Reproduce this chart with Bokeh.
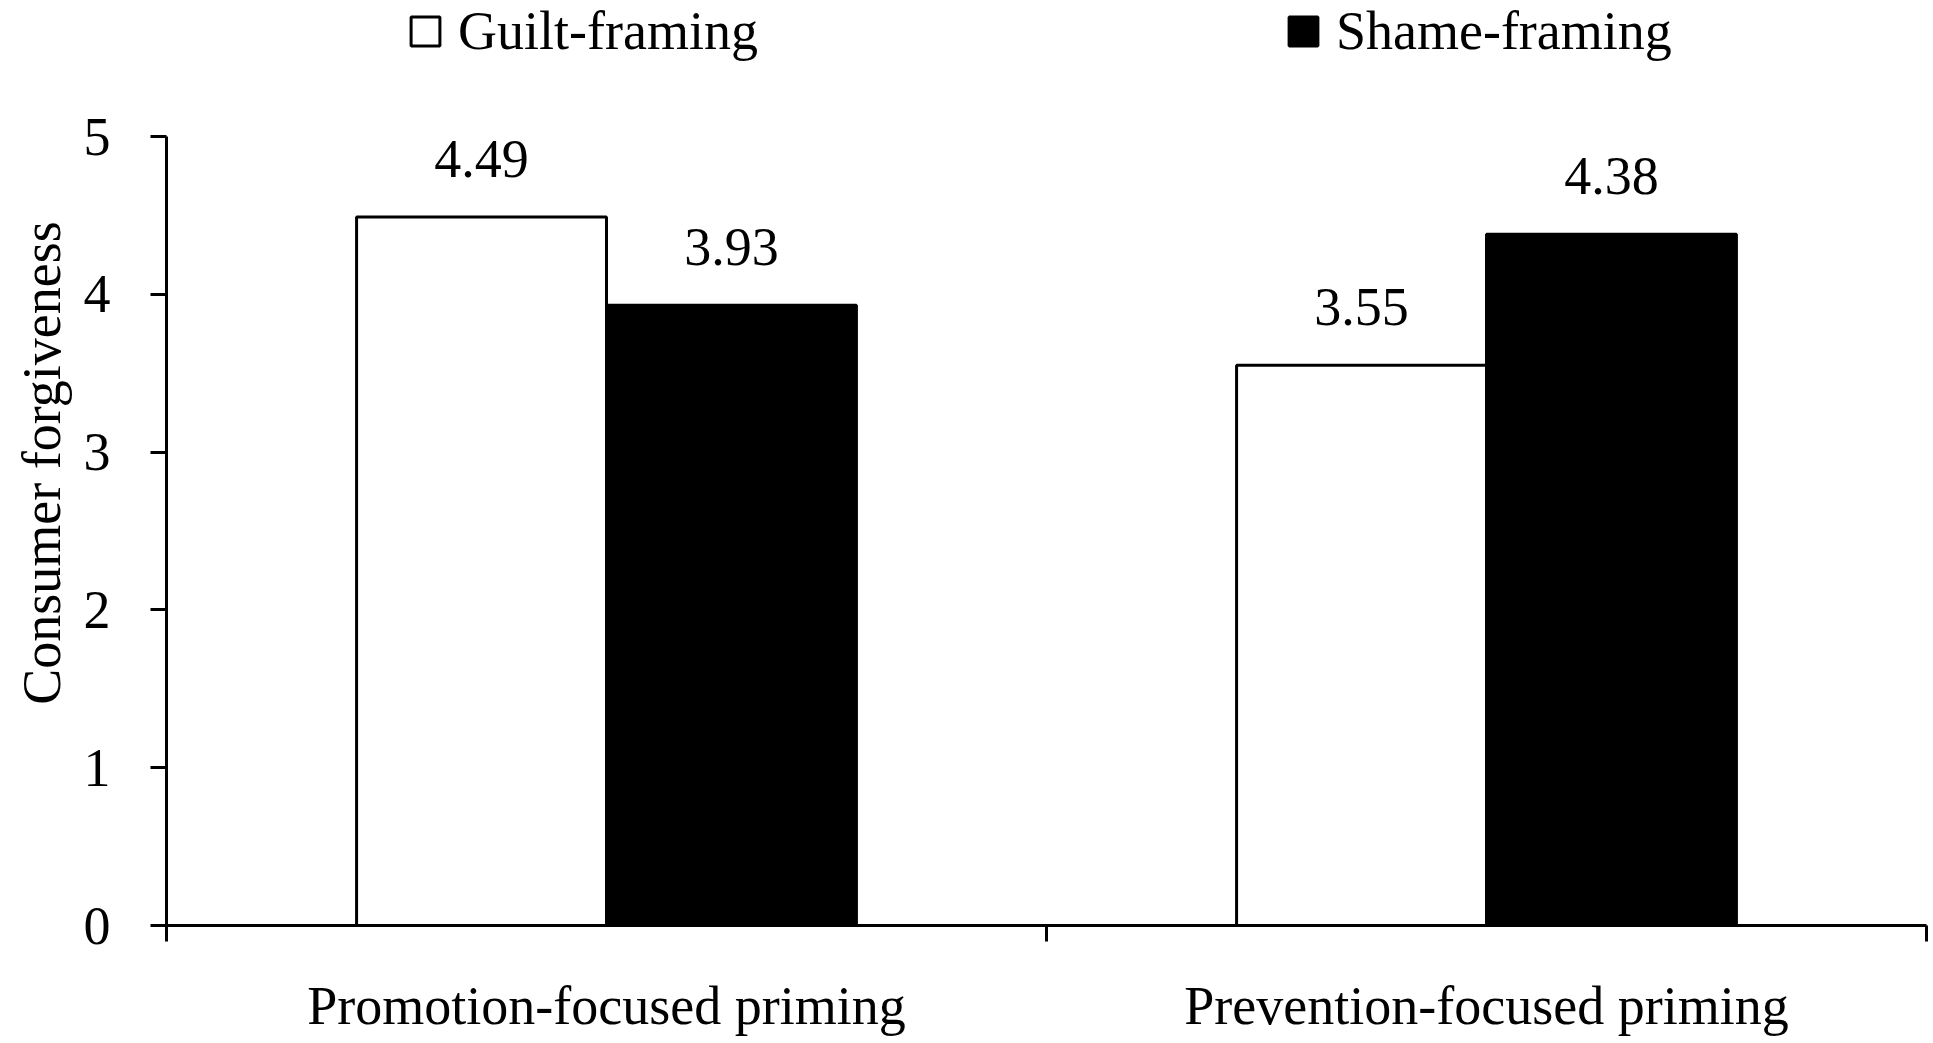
from bokeh.plotting import figure
from bokeh.models import (Range1d, FixedTicker, CustomJSTickFormatter, ColumnDataSource,
                          Legend, LegendItem, LabelSet, Title)
from bokeh.transform import dodge
from bokeh.embed import file_html
from bokeh.resources import INLINE

# ---- data ----
categories = ["Promotion-focused priming", "Prevention-focused priming"]
series = ["Guilt-framing", "Shame-framing"]
guilt = [4.49, 3.55]
shame = [3.93, 4.38]
y_ticks = [0, 1, 2, 3, 4, 5]
y_label = "Consumer forgiveness"

# ---- style / layout ----
FONT = "Liberation Serif"
FS = "54px"
BAR_W = 0.284
LW = 3
Y_HEADROOM = 0.862   # empty space above the axis top, holds the legend

centers = [i + 0.5 for i in range(len(categories))]
src = ColumnDataSource(dict(
    center=centers, guilt=guilt, shame=shame,
    guilt_txt=[f"{v:.2f}" for v in guilt],
    shame_txt=[f"{v:.2f}" for v in shame],
))

p = figure(width=1933, height=1043, output_backend="svg", toolbar_location=None,
           x_range=Range1d(0, len(categories)),
           y_range=Range1d(y_ticks[0], y_ticks[-1] + Y_HEADROOM),
           min_border_left=166, min_border_right=7,
           min_border_top=0, min_border_bottom=118)
p.background_fill_color = "white"
p.border_fill_color = "white"
p.outline_line_color = None
p.xgrid.visible = False
p.ygrid.visible = False

x_g = dodge("center", -BAR_W / 2, range=p.x_range)
x_s = dodge("center", BAR_W / 2, range=p.x_range)

r_g = p.vbar(x=x_g, top="guilt", bottom=0, width=BAR_W, source=src,
             fill_color="white", line_color="black", line_width=LW)
r_s = p.vbar(x=x_s, top="shame", bottom=0, width=BAR_W, source=src,
             fill_color="black", line_color="black", line_width=LW)

for xs, col in ((x_g, "guilt"), (x_s, "shame")):
    p.add_layout(LabelSet(x=xs, y=col, text=col + "_txt", source=src,
                          text_align="center", text_baseline="alphabetic",
                          y_offset=40, text_font=FONT, text_font_size=FS,
                          text_color="black"))

# x axis
xa = p.xaxis[0]
xa.ticker = FixedTicker(ticks=centers, minor_ticks=list(range(len(categories) + 1)))
xa.formatter = CustomJSTickFormatter(args=dict(labels=categories),
                                     code="return labels[Math.floor(tick)] || '';")
xa.axis_line_width = LW
xa.axis_line_color = "black"
xa.major_tick_line_color = None
xa.major_tick_out = 16
xa.major_tick_in = 0
xa.minor_tick_line_color = "black"
xa.minor_tick_line_width = LW
xa.minor_tick_out = 16
xa.minor_tick_in = 0
xa.major_label_standoff = 34
xa.major_label_text_font = FONT
xa.major_label_text_font_size = FS
xa.major_label_text_line_height = 1.0
xa.major_label_text_color = "black"

# y axis
ya = p.yaxis[0]
ya.bounds = (y_ticks[0], y_ticks[-1])
ya.ticker = FixedTicker(ticks=y_ticks)
ya.axis_line_width = LW
ya.axis_line_color = "black"
ya.major_tick_line_width = LW
ya.major_tick_line_color = "black"
ya.major_tick_out = 16
ya.major_tick_in = 0
ya.minor_tick_line_color = None
ya.major_label_standoff = 40
ya.major_label_text_font = FONT
ya.major_label_text_font_size = FS
ya.major_label_text_color = "black"

# y axis title (centred on the 0-5 part of the axis)
p.add_layout(Title(text=y_label, align="center", offset=-68, standoff=18,
                   text_font=FONT, text_font_size=FS, text_font_style="normal",
                   text_color="black", text_line_height=1.0), "left")

legend = Legend(items=[LegendItem(label=series[0], renderers=[r_g]),
                       LegendItem(label=series[1], renderers=[r_s])],
                orientation="horizontal", location=(241, 863),
                glyph_width=36, glyph_height=36, label_standoff=15, spacing=527,
                padding=0, margin=0, border_line_color=None,
                background_fill_alpha=0,
                label_text_font=FONT, label_text_font_size=FS,
                label_text_line_height=1.0,
                label_text_color="black")
p.add_layout(legend)

open("out.html", "w").write(file_html(p, INLINE))
